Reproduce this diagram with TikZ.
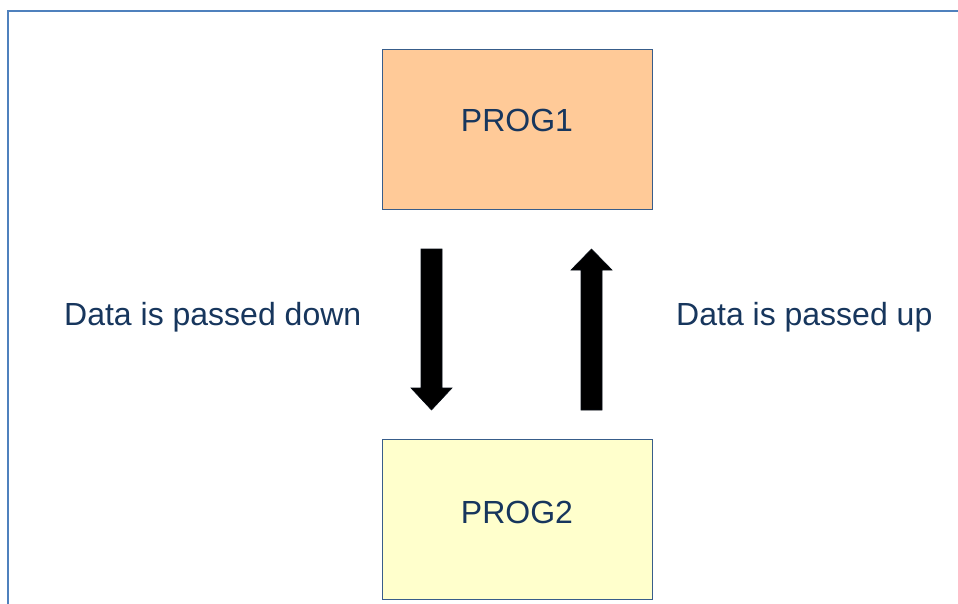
\documentclass[tikz,border=0pt]{standalone}
\usepackage{fontspec}
\setmainfont{Liberation Sans}
\definecolor{frameblue}{HTML}{4F81BD}
\definecolor{boxedge}{HTML}{385D8A}
\definecolor{peach}{HTML}{FFCA98}
\definecolor{paleyellow}{HTML}{FFFFCC}
\definecolor{inkblue}{HTML}{17365D}
\begin{document}
\begin{tikzpicture}[x=1pt,y=-1pt,
  progbox/.style={draw=boxedge, line width=1pt, minimum width=270pt, minimum height=160pt, inner sep=0pt},
  label/.style={text=inkblue, font=\fontsize{32}{38}\selectfont, inner sep=0pt},
  blockarrow/.style={fill=black, draw=black!80!inkblue, line width=0.6pt, line join=miter}]
  % canvas
  \useasboundingbox (0,0) rectangle (958,604);
  \fill[white] (0,0) rectangle (958,604);
  % slide frame along the top and left edge
  \draw[frameblue, line width=2.5pt] (8,604) -- (8,11) -- (958,11);

  % the two programs
  \node[progbox, fill=peach] (prog1) at (517,129.5) {};
  \node[progbox, fill=paleyellow] (prog2) at (517,519) {};
  \node[label, anchor=base] (t1) at (517,132) {PROG1};
  \node[label, anchor=base] (t2) at (517,523) {PROG2};

  % block arrows between them
  \draw[blockarrow] (421,249) -- (442,249) -- (442,388) -- (452,388) -- (431.5,410)
    -- (411,388) -- (421,388) -- cycle;
  \draw[blockarrow] (581,410) -- (602,410) -- (602,270) -- (612,270) -- (591.5,249)
    -- (571,270) -- (581,270) -- cycle;

  % captions
  \node[label, anchor=base west] (down) at (64,325) {Data is passed down};
  \node[label, anchor=base west] (up) at (676,325) {Data is passed up};
\end{tikzpicture}
\end{document}
